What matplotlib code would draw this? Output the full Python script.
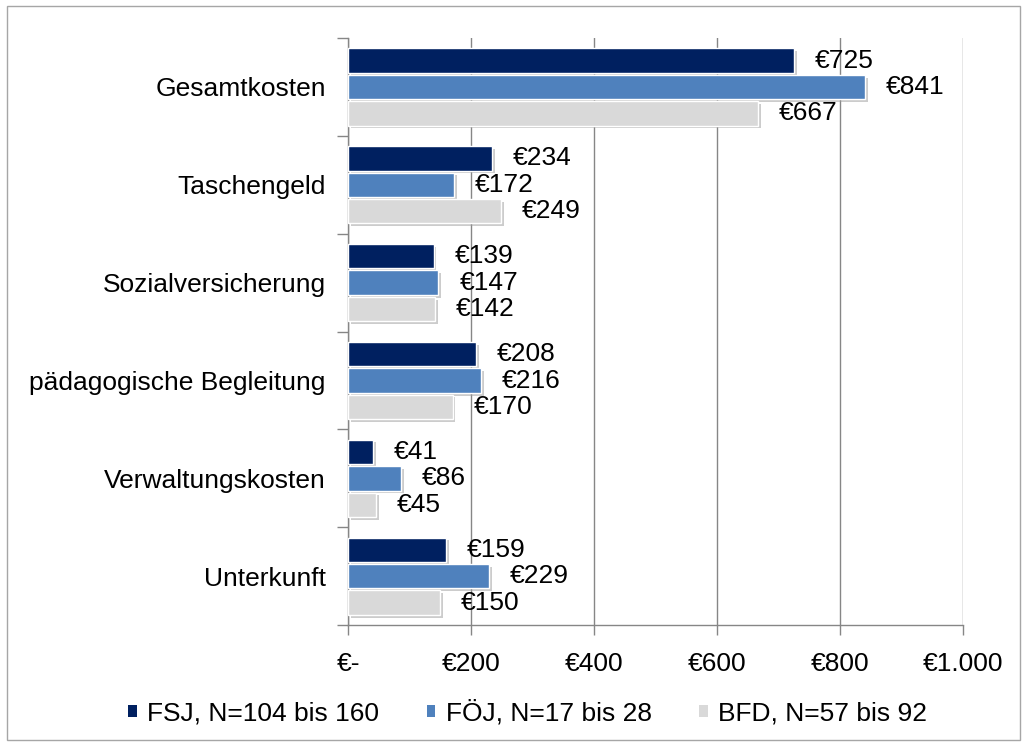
import numpy as np
import matplotlib
matplotlib.use("Agg")
import matplotlib.pyplot as plt
import matplotlib.patheffects as pe
from matplotlib.patches import Rectangle

plt.rcParams['font.family'] = ['Liberation Sans', 'DejaVu Sans']

# Data
categories = ['Gesamtkosten', 'Taschengeld', 'Sozialversicherung',
              'pädagogische Begleitung', 'Verwaltungskosten', 'Unterkunft']
fsj = [725, 234, 139, 208, 41, 159]
foej = [841, 172, 147, 216, 86, 229]
bfd = [667, 249, 142, 170, 45, 150]
series_names = ['FSJ, N=104 bis 160', 'FÖJ, N=17 bis 28', 'BFD, N=57 bis 92']
series_colors = ['#002060', '#4F81BD', '#D9D9D9']
xticks = [0, 200, 400, 600, 800, 1000]
xtick_labels = ['€-', '€200', '€400', '€600', '€800', '€1.000']

FS = 19

fig = plt.figure(figsize=(10.27, 7.46), dpi=100)
ax = fig.add_axes([0.3389, 0.162, 0.5988, 0.787])

# outer frame
fig.patches.append(Rectangle((0.007, 0.008), 0.986, 0.984, transform=fig.transFigure,
                             fill=False, edgecolor='#A6A6A6', linewidth=1.0))

y = np.arange(len(categories))
offsets = [-0.27, 0.0, 0.27]
shadow = [pe.SimplePatchShadow(offset=(2, -2), shadow_rgbFace='#9a9a9a', alpha=0.5), pe.Normal()]

for vals, off, col, name in zip([fsj, foej, bfd], offsets, series_colors, series_names):
    bars = ax.barh(y + off, vals, height=0.25, color=col, edgecolor='white',
                   linewidth=1.0, label=name, zorder=3)
    for b in bars:
        b.set_path_effects(shadow)
    for yy, v in zip(y + off, vals):
        ax.annotate(f'€{v}', xy=(v, yy), xytext=(15, 0), textcoords='offset points',
                    va='center', ha='left', fontsize=FS, color='black', zorder=4)

ax.set_xlim(0, 1000)
ax.set_ylim(len(categories) - 0.5, -0.5)
ax.set_xticks(xticks)
ax.set_xticklabels(xtick_labels, fontsize=FS)
ax.set_yticks(y)
ax.set_yticklabels(categories, fontsize=FS)
ax.set_yticks(np.arange(-0.5, len(categories)), minor=True)
ax.tick_params(axis='y', which='major', length=0, pad=16)
ax.tick_params(axis='y', which='minor', length=8, color='#868686', width=1)
ax.tick_params(axis='x', length=7, color='#868686', width=1, pad=12)

ax.grid(axis='x', color='#868686', linewidth=1, zorder=0)
ax.set_axisbelow(True)
for s in ['top', 'right']:
    ax.spines[s].set_visible(False)
for s in ['left', 'bottom']:
    ax.spines[s].set_color('#868686')
    ax.spines[s].set_linewidth(1)

leg = fig.legend(loc='center', bbox_to_anchor=(0.514, 0.045), ncol=3, frameon=False,
                 fontsize=FS, handlelength=0.32, handleheight=0.32, handletextpad=0.4,
                 columnspacing=1.8)
for h in leg.legend_handles:
    h.set_path_effects([])
    h.set_edgecolor('none')

fig.savefig('out.png', dpi=100)
